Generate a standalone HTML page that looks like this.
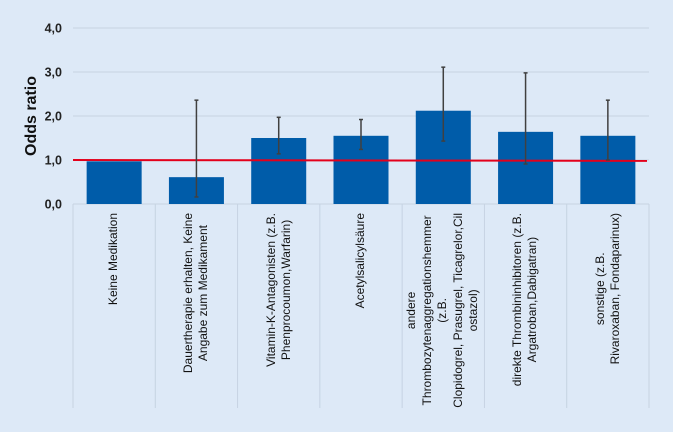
<!DOCTYPE html>
<html><head><meta charset="utf-8"><style>
body{margin:0;width:673px;height:432px;background:#dde9f7;font-family:"Liberation Sans",sans-serif;position:relative;overflow:hidden}
.lab{position:absolute;width:195px;height:82px;transform-origin:0 0;transform:rotate(-90deg);display:flex;align-items:center;justify-content:flex-end;font-size:12px;color:#111;line-height:15.5px;white-space:nowrap}
.lab span{text-align:center;display:inline-block;white-space:nowrap}
</style></head><body>
<svg id="svg" width="673" height="432" style="position:absolute;left:0;top:0"></svg>
<div id="labs"></div>
<script>
const categories=["Keine Medikation","Dauertherapie erhalten, Keine<br>Angabe zum Medikament","Vitamin-K-Antagonisten (z.B.<br>Phenprocoumon,Warfarin)","Acetylsalicylsäure","andere<br>Thrombozytenaggregationshemmer<br>(z.B.<br>Clopidogrel, Prasugrel, Ticagrelor,Cil<br>ostazol)","direkte Thrombininhibitoren (z.B.<br>Argatroban,Dabigatran)","sonstige (z.B.<br>Rivaroxaban, Fondaparinux)"];
const values=[0.97,0.61,1.50,1.55,2.12,1.64,1.55];
const errHigh=[null,2.36,1.97,1.92,3.11,2.98,2.36];
const errLow=[null,0.16,1.14,1.24,1.43,0.91,1.00];
const yTicks=[0,1,2,3,4];
const yTickLabels=["0,0","1,0","2,0","3,0","4,0"];
const refStart=1.0, refEnd=0.98;

const X0=73,X1=649,Y0=204,PX=44;
const cw=(X1-X0)/categories.length;
const y=v=>Y0-v*PX;
const xc=i=>X0+cw*(i+0.5);
const svg=document.getElementById('svg');
const NS="http://www.w3.org/2000/svg";
function mk(t,a){const e=document.createElementNS(NS,t);for(const k in a)e.setAttribute(k,a[k]);svg.appendChild(e);return e;}
yTicks.forEach((t,i)=>{
  if(t>0){const g=mk('line',{x1:X0,x2:X1,y1:y(t),y2:y(t),stroke:'#c6d3e2','stroke-width':1});
  
  }
  const tx=mk('text',{x:62,y:y(t)+4.5,'text-anchor':'end','font-size':12.5,'font-weight':'bold',fill:'#222'});
  tx.textContent=yTickLabels[i];
  
  
});
const yt=mk('text',{transform:'translate(36,'+(y(2))+') rotate(-90)','text-anchor':'middle','font-size':16,'font-weight':'bold',fill:'#111'});
yt.textContent='Odds ratio';


for(let i=0;i<=categories.length;i++){
  const l=mk('line',{x1:X0+cw*i,x2:X0+cw*i,y1:Y0,y2:408,stroke:'#c6d3e2','stroke-width':1});
  
  
}
const ax=mk('line',{x1:X0,x2:X1,y1:Y0,y2:Y0,stroke:'#c6d3e2','stroke-width':1});


values.forEach((v,i)=>{
  const b=mk('rect',{x:xc(i)-27.5,y:y(v),width:55,height:Y0-y(v),fill:'#005ca9'});
  
  
});
const rl=mk('line',{x1:X0,x2:X1-2,y1:y(refStart),y2:y(refEnd),stroke:'#e3001b','stroke-width':2});


values.forEach((v,i)=>{
  if(errHigh[i]==null)return;
  const cx=xc(i);
  const g=document.createElementNS(NS,'g');svg.appendChild(g);
  
  
  [[cx,y(errHigh[i]),cx,y(errLow[i])],[cx-2,y(errHigh[i]),cx+2,y(errHigh[i])],[cx-2,y(errLow[i]),cx+2,y(errLow[i])]].forEach(c=>{
    const l=document.createElementNS(NS,'line');
    l.setAttribute('x1',c[0]);l.setAttribute('y1',c[1]);l.setAttribute('x2',c[2]);l.setAttribute('y2',c[3]);
    l.setAttribute('stroke','#404040');l.setAttribute('stroke-width',1.5);g.appendChild(l);
  });
});
const labs=document.getElementById('labs');
categories.forEach((c,i)=>{
  const d=document.createElement('div');d.className='lab';
  d.style.left=(X0+cw*i)+'px';d.style.top='408px';d.style.height=cw+'px';
  d.innerHTML='<span>'+c+'</span>';
  
  
  labs.appendChild(d);
});
</script>
</body></html>
